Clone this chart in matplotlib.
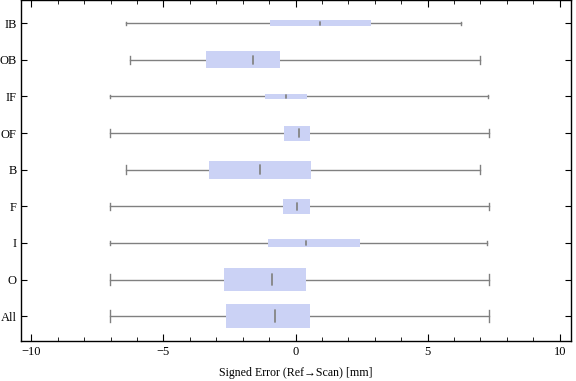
import matplotlib
matplotlib.use("Agg")
import matplotlib.pyplot as plt
from matplotlib.ticker import MultipleLocator

categories = ["All", "O", "I", "F", "B", "OF", "IF", "OB", "IB"]
whisker_low = [-7.04, -7.01, -7.04, -7.04, -6.40, -7.01, -7.04, -6.26, -6.40]
q1 = [-2.63, -2.71, -1.04, -0.47, -3.27, -0.44, -1.15, -3.39, -0.96]
median = [-0.76, -0.90, 0.39, 0.07, -1.34, 0.14, -0.37, -1.61, 0.93]
q3 = [0.55, 0.39, 2.43, 0.55, 0.59, 0.55, 0.42, -0.60, 2.84]
whisker_high = [7.33, 7.33, 7.26, 7.33, 6.99, 7.33, 7.27, 6.99, 6.27]
# relative box thickness (varies per category in the original)
box_thickness = [0.65, 0.63, 0.22, 0.41, 0.49, 0.41, 0.14, 0.46, 0.165]

plt.rcParams['font.family'] = ['Liberation Serif', 'DejaVu Serif']
plt.rcParams['axes.unicode_minus'] = True

fig = plt.figure(figsize=(5.76, 3.81), dpi=100)
ax = fig.add_axes([0.036, 0.1058, 0.955, 0.8929])

box_color = "#CBD2F5"
line_color = "#808080"

for i, cat in enumerate(categories):
    y = i + 1
    h = box_thickness[i]
    ax.plot([whisker_low[i], q1[i]], [y, y], color=line_color, lw=1.0, zorder=2)
    ax.plot([q3[i], whisker_high[i]], [y, y], color=line_color, lw=1.0, zorder=2)
    for xv in (whisker_low[i], whisker_high[i]):
        ax.plot([xv, xv], [y - h / 4, y + h / 4], color=line_color, lw=1.0, zorder=2)
    ax.fill_between([q1[i], q3[i]], y - h / 2, y + h / 2, color=box_color, lw=0, zorder=3)
    mh = max(h * 0.24, 0.04)
    ax.plot([median[i], median[i]], [y - mh, y + mh], color="#858585", lw=1.3,
            solid_capstyle="round", zorder=4)

ax.set_xlim(-10.4, 10.42)
ax.set_ylim(0.33, 9.62)
ax.set_yticks(range(1, len(categories) + 1))
ax.set_yticklabels(categories)
ax.xaxis.set_major_locator(MultipleLocator(5))
ax.xaxis.set_minor_locator(MultipleLocator(1))
ax.tick_params(axis="both", which="both", direction="in", top=True, right=True,
               labelsize=9, colors="black")
ax.tick_params(axis="x", which="major", length=5, width=0.8, pad=4)
ax.tick_params(axis="x", which="minor", length=3, width=0.6)
ax.tick_params(axis="y", which="major", length=4, width=0.8, pad=3)
for s in ax.spines.values():
    s.set_linewidth(1.0)
ax.set_xlabel("Signed Error (Ref\u2192Scan) [mm]", fontsize=8.6, labelpad=6)

fig.savefig("out.png", dpi=100)
